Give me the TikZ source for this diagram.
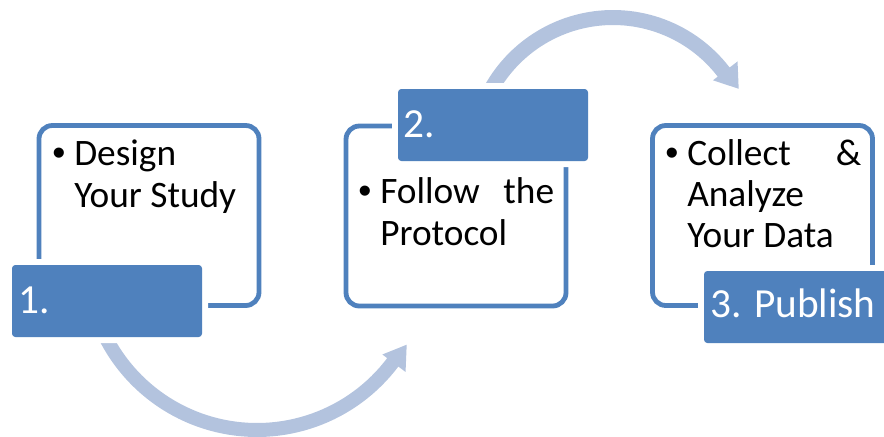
\documentclass[tikz,border=0pt]{standalone}
\usepackage{fontspec}
\setmainfont{Carlito}
\newfontfamily\bulletfont{Liberation Sans}
\definecolor{stepblue}{HTML}{4F81BD}
\definecolor{arrowblue}{HTML}{B3C3DE}
\newcommand\bulletmark{\makebox[16.5pt][l]{{\bulletfont\textbullet}}}
\tikzset{
  outbox/.style={draw=stepblue, line width=3.6pt, rounded corners=10pt, fill=white,
                 minimum width=165pt, minimum height=135pt, inner sep=0pt},
  labelbox/.style={fill=stepblue, rounded corners=2.5pt, inner sep=0pt,
                   minimum width=142.5pt, minimum height=54pt,
                   preaction={draw=white, line width=9pt}},
  bodytxt/.style={anchor=base west, inner sep=0pt, font=\fontsize{28}{33}\selectfont},
  labeltxt/.style={anchor=base west, inner sep=0pt, text=white, font=\fontsize{31}{37}\selectfont},
  flowarrow/.style={fill=arrowblue}
}
\begin{document}
\begin{tikzpicture}[x=0.75pt, y=-0.75pt]
\clip (0,0) rectangle (884,436);

% curved arrows between the steps (drawn first, partly hidden by the labels)
\fill[flowarrow]
  plot[domain=160:37, samples=60] ({257+177*cos(\x)}, {260+177*sin(\x)})
  -- ({257+186*cos(37)}, {260+186*sin(37)})
  -- ({257+172*cos(29.5)}, {260+172*sin(29.5)})
  -- ({257+157*cos(37)}, {260+157*sin(37)})
  -- plot[domain=37:160, samples=60] ({257+163*cos(\x)}, {260+163*sin(\x)})
  -- cycle;
\fill[flowarrow]
  plot[domain=-155:-37.5, samples=60] ({613+147*cos(\x)}, {157+147*sin(\x)})
  -- ({613+157*cos(-37.5)}, {157+157*sin(-37.5)})
  -- ({613+143*cos(-28.5)}, {157+143*sin(-28.5)})
  -- ({613+126*cos(-37.5)}, {157+126*sin(-37.5)})
  -- plot[domain=-37.5:-155, samples=60] ({613+132*cos(\x)}, {157+132*sin(\x)})
  -- cycle;

% outlined step boxes
\node[outbox] (b1) at (149,215.5) {};
\node[outbox] (b2) at (456,216) {};
\node[outbox] (b3) at (762.5,215.5) {};

% filled number labels
\node[labelbox] (l1) at (107,301) {};
\node[labelbox] (l2) at (493,125) {};
\node[labelbox] (l3) at (799,307) {};

\node[labeltxt] (n1) at (18,313) {1.};
\node[labeltxt] (n2) at (403,137) {2.};
\node[labeltxt] (n3) at (710,317) {3. Publish};

% box texts
\node[bodytxt] (t1a) at (52,165) {\bulletmark Design};
\node[bodytxt] (t1b) at (74,207) {Your Study};

\node[bodytxt] (t2a) at (358,203) {\bulletmark\makebox[130.5pt][l]{Follow\hfill the}};
\node[bodytxt] (t2b) at (380,245) {Protocol};

\node[bodytxt] (t3a) at (665,165) {\bulletmark\makebox[130.5pt][l]{Collect\hfill \&}};
\node[bodytxt] (t3b) at (687,206) {Analyze};
\node[bodytxt] (t3c) at (687,247) {Your Data};
\end{tikzpicture}
\end{document}
